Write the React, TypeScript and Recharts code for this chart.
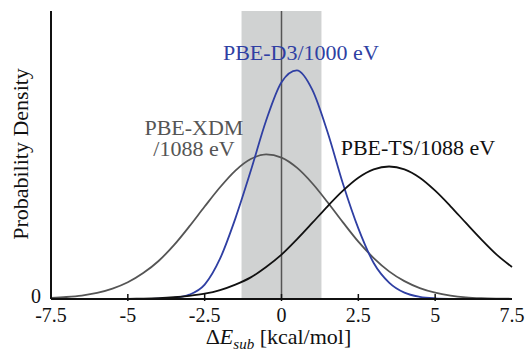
import {
  Label,
  Line,
  LineChart,
  ReferenceArea,
  ReferenceDot,
  ReferenceLine,
  XAxis,
  YAxis,
} from 'recharts'

// energy grid, kcal/mol
const xs = [
  -7.5, -7, -6.5, -6, -5.5, -5, -4.5, -4, -3.5, -3, -2.5, -2, -1.5, -1, -0.5, 0,
  0.5, 1, 1.5, 2, 2.5, 3, 3.5, 4, 4.5, 5, 5.5, 6, 6.5, 7, 7.5,
]

// densities
const xdm = [
  0.004, 0.007, 0.012, 0.021, 0.036, 0.058, 0.09, 0.132, 0.187, 0.252, 0.321, 0.388, 0.446,
  0.486, 0.502, 0.491, 0.456, 0.402, 0.336, 0.266, 0.199, 0.142, 0.096, 0.062, 0.038, 0.022,
  0.012, 0.006, 0.003, 0.0015, 0.0007,
]
const d3 = [
  0, 0, 0, 0, 0, 0, 0, 0.001, 0.004, 0.015, 0.05, 0.14, 0.28, 0.445, 0.62, 0.753, 0.794,
  0.727, 0.579, 0.4, 0.245, 0.125, 0.057, 0.022, 0.0075, 0.0022, 0.0005, 0, 0, 0, 0,
]
const ts = [
  0, 0, 0.0001, 0.0002, 0.0003, 0.0007, 0.0015, 0.003, 0.006, 0.011, 0.0185, 0.031, 0.05,
  0.075, 0.111, 0.154, 0.207, 0.264, 0.322, 0.376, 0.421, 0.45, 0.46, 0.45, 0.421, 0.376,
  0.322, 0.264, 0.207, 0.154, 0.111,
]

const xTicks = [-7.5, -5, -2.5, 0, 2.5, 5, 7.5]
const xTickLabels = ['-7.5', '-5', '-2.5', '0', '2.5', '5', '7.5']
const band = [-1.3, 1.3]

const rows = xs.map((x, i) => ({ x, xdm: xdm[i], d3: d3[i], ts: ts[i] }))

const FONT = "'Liberation Serif', 'DejaVu Serif', 'Times New Roman', serif"
const serif = { fontFamily: FONT }
const BLUE = '#2f3fa3'
const GREY = '#555555'
const BLACK = '#111111'

function BottomTick(props: any) {
  const { x, y, payload } = props
  const i = xTicks.indexOf(payload.value)
  const edge = i === 0 || i === xTicks.length - 1
  return (
    <g>
      {!edge && <line x1={x} x2={x} y1={y} y2={y - 7} stroke={BLACK} strokeWidth={1.5} />}
      <text x={x} y={y + 21} textAnchor="middle" style={serif} fontSize={20} fill={BLACK}>
        {xTickLabels[i]}
      </text>
    </g>
  )
}

function TopTick(props: any) {
  const { x, y, payload } = props
  const i = xTicks.indexOf(payload.value)
  if (i === 0 || i === xTicks.length - 1) return <g />
  return <line x1={x} x2={x} y1={y} y2={y + 7} stroke={BLACK} strokeWidth={1.5} />
}

function YTick(props: any) {
  const { x, y, payload } = props
  return (
    <text x={x} y={y + 4} textAnchor="end" style={serif} fontSize={20} fill={BLACK}>
      {payload.value}
    </text>
  )
}

function XTitle(props: any) {
  const vb = props.viewBox
  return (
    <text x={vb.x + vb.width / 2 - 3} y={vb.y + 45} textAnchor="middle" style={serif} fontSize={22} fill={BLACK}>
      <tspan>Δ</tspan>
      <tspan fontStyle="italic">E</tspan>
      <tspan fontStyle="italic" fontSize={15} dy={5}>sub</tspan>
      <tspan dy={-5}> [kcal/mol]</tspan>
    </text>
  )
}

function YTitle(props: any) {
  const vb = props.viewBox
  const cx = vb.x + 28
  const cy = vb.y + vb.height / 2 - 1
  return (
    <text x={cx} y={cy} transform={`rotate(-90, ${cx}, ${cy})`} textAnchor="middle" style={serif} fontSize={22} fill={BLACK}>
      Probability Density
    </text>
  )
}

const annotate = (lines: string[], color: string) => (props: any) => {
  const vb = props.viewBox
  return (
    <text x={vb.x} y={vb.y} textAnchor="middle" style={serif} fontSize={22} fill={color}>
      {lines.map((t, k) => (
        <tspan key={k} x={vb.x} dy={k === 0 ? 0 : 21}>
          {t}
        </tspan>
      ))}
    </text>
  )
}

export default function App() {
  return (
    <div style={{ position: 'absolute', left: 0, top: 0, background: '#fff', fontFamily: FONT }}>
      <LineChart width={528} height={352} data={rows} margin={{ top: 11, right: 16, bottom: 8, left: 0 }}>
        <XAxis
          dataKey="x"
          type="number"
          domain={[-7.5, 7.5]}
          ticks={xTicks}
          tickSize={0}
          tickLine={false}
          height={45}
          axisLine={{ stroke: BLACK, strokeWidth: 2 }}
          tick={<BottomTick />}
        >
          <Label content={XTitle} />
        </XAxis>
        <XAxis
          xAxisId="top"
          orientation="top"
          dataKey="x"
          type="number"
          domain={[-7.5, 7.5]}
          ticks={xTicks}
          tickSize={0}
          tickLine={false}
          height={0}
          axisLine={{ stroke: BLACK, strokeWidth: 2 }}
          tick={<TopTick />}
        />
        <YAxis
          type="number"
          domain={[0, 1]}
          ticks={[0]}
          width={51}
          tickLine={false}
          tickSize={0}
          tickMargin={10}
          axisLine={{ stroke: BLACK, strokeWidth: 2 }}
          tick={<YTick />}
        >
          <Label content={YTitle} />
        </YAxis>
        <YAxis
          yAxisId="right"
          orientation="right"
          type="number"
          domain={[0, 1]}
          width={0}
          tick={false}
          tickLine={false}
          axisLine={{ stroke: BLACK, strokeWidth: 2 }}
        />
        <ReferenceArea x1={band[0]} x2={band[1]} y1={0} y2={1} fill="#d0d2d2" fillOpacity={1} stroke="none" />
        <ReferenceLine x={0} stroke={GREY} strokeWidth={1.5} />
        <Line type="monotone" dataKey="xdm" stroke={GREY} strokeWidth={1.8} dot={false} activeDot={false} isAnimationActive={false} />
        <Line type="monotone" dataKey="d3" stroke={BLUE} strokeWidth={1.8} dot={false} activeDot={false} isAnimationActive={false} />
        <Line type="monotone" dataKey="ts" stroke={BLACK} strokeWidth={1.8} dot={false} activeDot={false} isAnimationActive={false} />
        <ReferenceDot x={0.63} y={0.83} r={0} stroke="none" label={annotate(['PBE-D3/1000 eV'], BLUE)} />
        <ReferenceDot x={-2.85} y={0.569} r={0} stroke="none" label={annotate(['PBE-XDM', '/1088 eV'], GREY)} />
        <ReferenceDot x={4.44} y={0.5} r={0} stroke="none" label={annotate(['PBE-TS/1088 eV'], BLACK)} />
      </LineChart>
    </div>
  )
}
